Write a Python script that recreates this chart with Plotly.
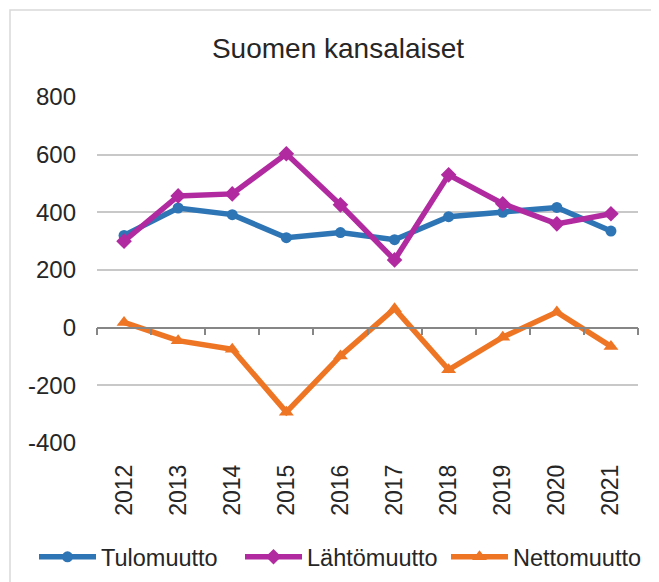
import plotly.graph_objects as go

years = ["2012", "2013", "2014", "2015", "2016", "2017", "2018", "2019", "2020", "2021"]
tulomuutto = [320, 415, 392, 312, 330, 305, 385, 400, 417, 335]
lahtomuutto = [300, 457, 464, 603, 426, 235, 530, 430, 360, 395]
nettomuutto = [18, -45, -75, -293, -98, 66, -146, -33, 54, -65]
ytick_vals = [-400, -200, 0, 200, 400, 600, 800]
ytick_text = ["-400", "-200", "0", "200", "400", "600", "800"]

OFF = 8  # page body margin
W, H = 659 - OFF, 582 - OFF
ML, MR, MT, MB = 97 - OFF, 21, 97 - OFF, 139
PW, PH = W - ML - MR, H - MT - MB
YMIN, YMAX = -400, 800

FONT = "Liberation Sans, Arial, sans-serif"
TXT = "#262626"

fig = go.Figure()
series = [
    ("Tulomuutto", tulomuutto, "#2E75B6", "circle", 11),
    ("Lähtömuutto", lahtomuutto, "#B12A9F", "diamond", 12),
    ("Nettomuutto", nettomuutto, "#EE7524", "triangle-up", 13),
]
for name, vals, col, sym, sz in series:
    fig.add_trace(go.Scatter(
        x=years, y=vals, name=name, mode="lines+markers",
        line=dict(color=col, width=5.5),
        marker=dict(symbol=sym, size=sz, color=col),
    ))
# invisible helper trace so the zero-line category axis renders
fig.add_trace(go.Scatter(x=years, y=tulomuutto, xaxis="x2", mode="lines",
                         opacity=0, showlegend=False, hoverinfo="skip"))

fig.update_layout(
    width=W, height=H,
    margin=dict(l=ML, r=MR, t=MT, b=MB, autoexpand=False),
    paper_bgcolor="white", plot_bgcolor="white",
    font=dict(family=FONT, color=TXT, size=24),
    title=dict(text="Suomen kansalaiset", x=(338 - OFF) / W, xanchor="center",
               y=1 - (48 - OFF) / H, yanchor="middle", font=dict(size=28, color=TXT)),
    xaxis=dict(type="category", categoryarray=years, range=[-0.5, 9.5],
               showline=False, showgrid=False, zeroline=False, ticks="",
               tickangle=-90, tickfont=dict(size=23), ticklabelstandoff=16,
               automargin=False),
    xaxis2=dict(type="category", categoryarray=years, range=[-0.5, 9.5],
                overlaying="x", anchor="free", position=(0 - YMIN) / (YMAX - YMIN),
                showline=True, linecolor="#868686", linewidth=1.5,
                ticks="outside", tickson="boundaries", ticklen=7,
                tickcolor="#868686", tickwidth=1.5, automargin=False,
                showticklabels=False, showgrid=False, zeroline=False),
    yaxis=dict(range=[YMIN, YMAX], tickmode="array", tickvals=ytick_vals,
               ticktext=ytick_text, showgrid=True,
               gridcolor="#C8C8C8", gridwidth=1.5, zeroline=False,
               showline=False, ticks="", tickfont=dict(size=24),
               ticklabelstandoff=20, automargin=False),
    legend=dict(orientation="h", xref="paper", yref="paper",
                x=(34 - OFF - ML) / PW, xanchor="left",
                y=(MT + PH - (557 - OFF)) / PH, yanchor="middle",
                font=dict(size=23.5, color=TXT), itemwidth=57,
                entrywidth=134, entrywidthmode="pixels",
                bgcolor="rgba(0,0,0,0)"),
    shapes=[dict(type="rect", xref="paper", yref="paper",
                 x0=(10 - OFF - ML) / PW, x1=(W + 5 - ML) / PW,
                 y0=-(H + 5 - MT - PH) / PH, y1=(MT + PH - (10 - OFF)) / PH,
                 line=dict(color="#D9D9D9", width=1.5), layer="below")],
)

fig.write_html("out.html")
